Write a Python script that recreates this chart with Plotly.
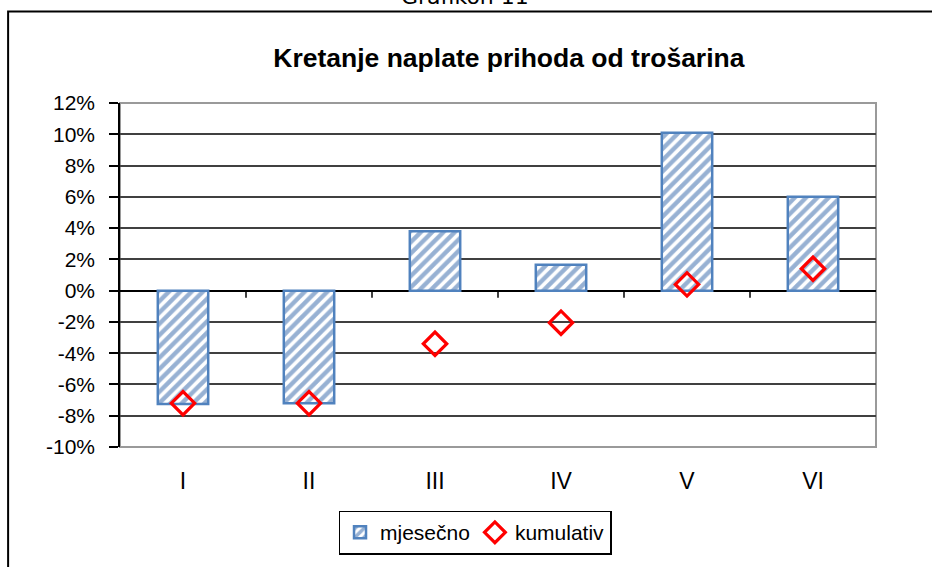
import plotly.graph_objects as go

categories = ["I", "II", "III", "IV", "V", "VI"]
mjesecno = [-0.0725, -0.072, 0.038, 0.0165, 0.101, 0.060]
kumulativ = [-0.072, -0.072, -0.034, -0.0205, 0.004, 0.014]
y_ticks = [-0.10, -0.08, -0.06, -0.04, -0.02, 0.0, 0.02, 0.04, 0.06, 0.08, 0.10, 0.12]
y_tick_labels = ["-10%", "-8%", "-6%", "-4%", "-2%", "0%", "2%", "4%", "6%", "8%", "10%", "12%"]

xpos = list(range(len(categories)))

fig = go.Figure()
fig.add_trace(go.Bar(
    x=xpos, y=mjesecno, name="mjesečno", width=0.4,
    marker=dict(color="white", line=dict(color="#5082BE", width=2.5),
                pattern=dict(shape="/", fgcolor="#2F63A8", bgcolor="white", size=8, solidity=0.55)),
))
fig.add_trace(go.Scatter(
    x=xpos, y=kumulativ, name="kumulativ", mode="markers",
    marker=dict(symbol="diamond-open", size=18, color="#FF0000", line=dict(width=3.2, color="#FF0000")),
))

shapes = []
# plot area border (gray)
shapes.append(dict(type="rect", xref="paper", yref="paper", x0=0, x1=1, y0=0, y1=1,
                   line=dict(color="#9A9A9A", width=2), layer="below"))
# outer chart border (top + left)
shapes.append(dict(type="path", xref="paper", yref="paper",
                   path="M -0.148,-0.6 L -0.148,1.266 L 1.2,1.266",
                   line=dict(color="black", width=2)))
# x-axis category separator ticks on the zero line
for i in range(len(categories) - 1):
    shapes.append(dict(type="line", xref="x", yref="y", x0=i + 0.5, x1=i + 0.5, y0=0, y1=-0.0045,
                       line=dict(color="black", width=1.5)))

fig.update_layout(
    width=932, height=567,
    margin=dict(l=120, r=56, t=103, b=118),
    paper_bgcolor="white", plot_bgcolor="white",
    font=dict(family="Liberation Sans, Arial, sans-serif", color="black"),
    title=dict(text="<b>Kretanje naplate prihoda od trošarina</b>",
               font=dict(family="Liberation Sans Narrow, Liberation Sans, sans-serif", size=26.5, color="black"),
               x=0.546, xanchor="center", y=0.898, yanchor="middle"),
    bargap=0.6,
    showlegend=True,
    legend=dict(orientation="h", x=0.4696, xanchor="center", y=-0.185, yanchor="top",
                bordercolor="black", borderwidth=1.5, bgcolor="white",
                font=dict(size=21), itemwidth=30, traceorder="normal"),
    shapes=shapes,
    annotations=[dict(text="Grafikon 11", xref="paper", yref="paper", x=0.457, y=1.266,
                      xanchor="center", yanchor="bottom", showarrow=False,
                      font=dict(family="DejaVu Sans, sans-serif", size=22, color="black"))],
    xaxis=dict(range=[-0.5, 5.5], tickmode="array", tickvals=xpos, ticktext=categories,
               showgrid=False, zeroline=False, showline=False, ticks="",
               tickfont=dict(size=23), ticklabelstandoff=18, fixedrange=True),
    yaxis=dict(range=[-0.10, 0.12], tickmode="array", tickvals=y_ticks, ticktext=y_tick_labels,
               showgrid=True, gridcolor="#404040", gridwidth=1.5,
               zeroline=True, zerolinecolor="black", zerolinewidth=1.5,
               showline=True, linecolor="black", linewidth=1.5,
               ticks="outside", ticklen=9, tickcolor="black", tickwidth=1.5,
               tickfont=dict(size=21), ticklabelstandoff=10, fixedrange=True),
)

fig.write_html("out.html", config={"displayModeBar": False},
               post_script="document.body.style.margin='0';")
